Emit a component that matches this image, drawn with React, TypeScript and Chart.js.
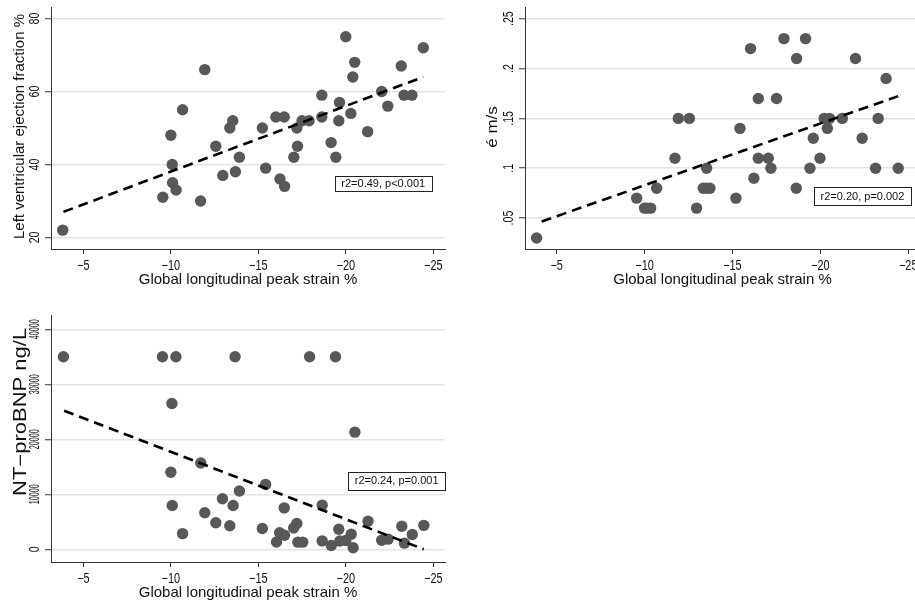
import React, { useEffect, useRef } from "react";
import { Chart, registerables } from "chart.js";

Chart.register(...registerables);

// ---------- data ----------
const strainTicks = [-5, -10, -15, -20, -25];

// Panel 1: LVEF vs GLS
const lvefStrain = [-3.82, -9.54, -10.0, -10.08, -10.1, -10.3, -10.67, -11.7, -11.94, -12.57, -12.97, -13.37, -13.54, -13.69, -13.92, -15.23, -15.42, -16.0, -16.24, -16.48, -16.5, -17.03, -17.2, -17.24, -17.5, -17.9, -18.63, -18.63, -19.16, -19.43, -19.6, -19.64, -20.0, -20.29, -20.4, -20.51, -21.25, -22.05, -22.4, -23.17, -23.33, -23.78, -24.43];
const lvefValues = [22, 31, 48, 40, 35, 33, 55, 30, 66, 45, 37, 50, 52, 38, 42, 50, 39, 53, 36, 53, 34, 42, 50, 45, 52, 52, 59, 53, 46, 42, 52, 57, 75, 54, 64, 68, 49, 60, 56, 67, 59, 59, 72];
const lvefFitStrain = [-3.86, -24.43];
const lvefFitValues = [27, 64];
const lvefTicks = [20, 40, 60, 80];

// Panel 2: e' vs GLS
const eStrain = [-3.86, -9.55, -10.0, -10.15, -10.35, -10.69, -11.73, -11.92, -12.55, -12.96, -13.34, -13.53, -13.53, -13.72, -15.2, -15.43, -16.03, -16.22, -16.47, -16.47, -17.04, -17.19, -17.51, -17.93, -18.63, -18.65, -19.16, -19.41, -19.6, -19.98, -20.22, -20.4, -20.52, -21.25, -22.0, -22.38, -23.14, -23.29, -23.74, -24.43];
const eValues = [0.03, 0.07, 0.06, 0.06, 0.06, 0.08, 0.11, 0.15, 0.15, 0.06, 0.08, 0.1, 0.08, 0.08, 0.07, 0.14, 0.22, 0.09, 0.17, 0.11, 0.11, 0.1, 0.17, 0.23, 0.08, 0.21, 0.23, 0.1, 0.13, 0.11, 0.15, 0.14, 0.15, 0.15, 0.21, 0.13, 0.1, 0.15, 0.19, 0.1];
const eFitStrain = [-4.15, -24.43];
const eFitValues = [0.0466, 0.1723];
const eTicks = [0.05, 0.1, 0.15, 0.2, 0.25];

// Panel 3: NT-proBNP vs GLS
const bnpStrain = [-3.86, -9.52, -10.0, -10.06, -10.08, -10.29, -10.67, -11.71, -11.94, -12.57, -12.95, -13.37, -13.56, -13.67, -13.92, -15.23, -15.42, -16.04, -16.22, -16.48, -16.5, -17.02, -17.2, -17.26, -17.54, -17.93, -18.65, -18.65, -19.17, -19.41, -19.6, -19.66, -20.0, -20.31, -20.42, -20.52, -21.27, -22.05, -22.42, -23.2, -23.35, -23.8, -24.46];
const bnpValues = [35000, 35000, 14000, 26500, 7950, 35000, 2850, 15700, 6650, 4830, 9200, 4280, 7950, 35000, 10600, 3770, 11800, 1330, 3000, 7530, 2550, 3880, 4680, 1300, 1300, 35000, 8030, 1530, 700, 35000, 3640, 1500, 1600, 2750, 280, 21300, 5100, 1640, 1850, 4200, 1120, 2700, 4350];
const bnpFitStrain = [-3.9, -24.46];
const bnpFitValues = [25200, 0];
const bnpTicks = [0, 10000, 20000, 30000, 40000];

// ---------- drawing helpers ----------
const FONT = '"Liberation Sans", Arial, Helvetica, sans-serif';
const TEXT = "#111111";

function drawText(ctx: CanvasRenderingContext2D, text: string, x: number, y: number, rot: number, sx: number, sy: number, maxLen?: number) {
  ctx.save();
  ctx.translate(x, y);
  if (rot) ctx.rotate(rot);
  ctx.scale(sx, sy);
  if (maxLen) ctx.fillText(text, 0, 0, maxLen / sx);
  else ctx.fillText(text, 0, 0);
  ctx.restore();
}

type Spec = {
  xs: number[]; ys: number[]; fitX: number[]; fitY: number[]; yTicks: number[];
  yMin: number; yMax: number; xMin: number; xMax: number;
  yFmt: (v: number) => string;
  yTitle: string; yTitleSize: number; yTitleSy: number; yTitleShift: number; yTitleGap: number;
  yTickMax?: number;
  note: { text: string; x1: number; x2: number; y1: number; y2: number };
  padding: { left: number; top: number; right: number; bottom: number };
  yWidth: number; xHeight: number;
};

function makeTextPlugin(s: Spec) {
  return {
    id: "axisText",
    afterDraw(chart: any) {
      const ctx: CanvasRenderingContext2D = chart.ctx;
      const a = chart.chartArea;
      const xs = chart.scales.x;
      const ys = chart.scales.y;
      ctx.save();
      ctx.fillStyle = TEXT;
      ctx.textBaseline = "alphabetic";
      ctx.textAlign = "center";
      // x tick labels
      ctx.font = `14px ${FONT}`;
      for (const t of xs.ticks) {
        const px = xs.getPixelForValue(t.value);
        drawText(ctx, "\u2212" + Math.abs(t.value), px, a.bottom + 20.5, 0, 0.78, 1);
      }
      // y tick labels (rotated)
      for (const t of ys.ticks) {
        const py = ys.getPixelForValue(t.value);
        drawText(ctx, s.yFmt(t.value), a.left - 12, py, -Math.PI / 2, 0.76, 1, s.yTickMax);
      }
      // x title
      ctx.font = `15px ${FONT}`;
      drawText(ctx, "Global longitudinal peak strain %", (a.left + a.right) / 2, a.bottom + 35, 0, 1, 1);
      // y title
      ctx.font = `${s.yTitleSize}px ${FONT}`;
      drawText(ctx, s.yTitle, a.left - s.yTitleGap, (a.top + a.bottom) / 2 + s.yTitleShift, -Math.PI / 2, 1, s.yTitleSy);
      // annotation box
      const bx1 = xs.getPixelForValue(s.note.x1);
      const bx2 = xs.getPixelForValue(s.note.x2);
      const by1 = ys.getPixelForValue(s.note.y1);
      const by2 = ys.getPixelForValue(s.note.y2);
      ctx.fillStyle = "#ffffff";
      ctx.fillRect(bx1, by1, bx2 - bx1, by2 - by1);
      ctx.strokeStyle = "#222222";
      ctx.lineWidth = 1;
      ctx.strokeRect(Math.round(bx1) + 0.5, Math.round(by1) + 0.5, Math.round(bx2 - bx1), Math.round(by2 - by1));
      ctx.fillStyle = TEXT;
      ctx.font = `11px ${FONT}`;
      ctx.textBaseline = "middle";
      ctx.fillText(s.note.text, (bx1 + bx2) / 2, (by1 + by2) / 2 + 0.5);
      ctx.restore();
    },
  };
}

function buildConfig(s: Spec): any {
  const points = s.xs.map((x, i) => ({ x, y: s.ys[i] }));
  const fit = s.fitX.map((x, i) => ({ x, y: s.fitY[i] }));
  return {
    type: "scatter",
    data: {
      datasets: [
        {
          type: "line",
          data: fit,
          borderColor: "#000000",
          borderWidth: 2.6,
          borderDash: [10, 6],
          pointRadius: 0,
          fill: false,
          tension: 0,
        },
        {
          type: "scatter",
          data: points,
          pointRadius: 5.7,
          pointHoverRadius: 5.7,
          backgroundColor: "#585858",
          borderWidth: 0,
        },
      ],
    },
    options: {
      responsive: false,
      animation: false,
      events: [],
      layout: { padding: s.padding },
      plugins: { legend: { display: false }, tooltip: { enabled: false } },
      scales: {
        x: {
          type: "linear",
          reverse: true,
          min: s.xMin,
          max: s.xMax,
          afterBuildTicks: (sc: any) => {
            sc.ticks = strainTicks.map((v) => ({ value: v }));
          },
          afterFit: (sc: any) => {
            sc.height = s.xHeight;
          },
          ticks: { display: false },
          grid: { display: true, drawOnChartArea: false, drawTicks: true, tickLength: 5, tickColor: "#333333", tickWidth: 1 },
          border: { display: true, color: "#333333", width: 1 },
        },
        y: {
          type: "linear",
          min: s.yMin,
          max: s.yMax,
          afterBuildTicks: (sc: any) => {
            sc.ticks = s.yTicks.map((v) => ({ value: v }));
          },
          afterFit: (sc: any) => {
            sc.width = s.yWidth;
          },
          ticks: { display: false },
          grid: { display: true, drawOnChartArea: true, color: "#e4e4e4", lineWidth: 1.5, drawTicks: true, tickLength: 6, tickColor: "#333333", tickWidth: 1 },
          border: { display: true, color: "#333333", width: 1 },
        },
      },
    },
    plugins: [makeTextPlugin(s)],
  };
}

const specs: { spec: Spec; left: number; top: number; width: number; height: number }[] = [
  {
    left: 0, top: 0, width: 460, height: 295,
    spec: {
      xs: lvefStrain, ys: lvefValues, fitX: lvefFitStrain, fitY: lvefFitValues, yTicks: lvefTicks,
      yMin: 16.83, yMax: 83.17, xMin: -25.67, xMax: -3.15,
      yFmt: (v) => String(v),
      yTitle: "Left ventricular ejection fraction %", yTitleSize: 15, yTitleSy: 1, yTitleShift: -1.5, yTitleGap: 27,
      note: { text: "r2=0.49, p<0.001", x1: -19.38, x2: -24.9, y1: 36.9, y2: 32.9 },
      padding: { left: 0, top: 7, right: 15, bottom: 0 },
      yWidth: 51, xHeight: 46,
    },
  },
  {
    left: 460, top: 0, width: 470, height: 295,
    spec: {
      xs: eStrain, ys: eValues, fitX: eFitStrain, fitY: eFitValues, yTicks: eTicks,
      yMin: 0.019, yMax: 0.2617, xMin: -25.67, xMax: -3.2,
      yFmt: (v) => String(v).replace(/^0/, ""),
      yTitle: "\u00e9 m/s", yTitleSize: 17, yTitleSy: 0.85, yTitleShift: -1, yTitleGap: 28,
      note: { text: "r2=0.20, p=0.002", x1: -19.65, x2: -25.14, y1: 0.081, y2: 0.0633 },
      padding: { left: 0, top: 7, right: 10, bottom: 0 },
      yWidth: 65, xHeight: 46,
    },
  },
  {
    left: 0, top: 300, width: 460, height: 300,
    spec: {
      xs: bnpStrain, ys: bnpValues, fitX: bnpFitStrain, fitY: bnpFitValues, yTicks: bnpTicks,
      yMin: -2312, yMax: 42604, xMin: -25.67, xMax: -3.15,
      yFmt: (v) => String(v),
      yTitle: "NT\u2212proBNP ng/L", yTitleSize: 22, yTitleSy: 0.8, yTitleShift: -26.6, yTitleGap: 25,
      yTickMax: 20,
      note: { text: "r2=0.24, p=0.001", x1: -20.14, x2: -25.67, y1: 14073, y2: 10869 },
      padding: { left: 0, top: 15, right: 15, bottom: 0 },
      yWidth: 51, xHeight: 38,
    },
  },
];

function Panel({ spec, left, top, width, height }: { spec: Spec; left: number; top: number; width: number; height: number }) {
  const ref = useRef<HTMLCanvasElement>(null);
  useEffect(() => {
    if (!ref.current) return;
    const chart = new Chart(ref.current, buildConfig(spec));
    return () => chart.destroy();
  }, [spec]);
  return (
    <canvas
      ref={ref}
      width={width}
      height={height}
      style={{ position: "absolute", left, top, width, height, display: "block" }}
    />
  );
}

export default function App() {
  return (
    <div
      style={{
        position: "fixed",
        left: 0,
        top: 0,
        width: 915,
        height: 600,
        overflow: "hidden",
        background: "#ffffff",
      }}
    >
      {specs.map((p, i) => (
        <Panel key={i} spec={p.spec} left={p.left} top={p.top} width={p.width} height={p.height} />
      ))}
    </div>
  );
}
